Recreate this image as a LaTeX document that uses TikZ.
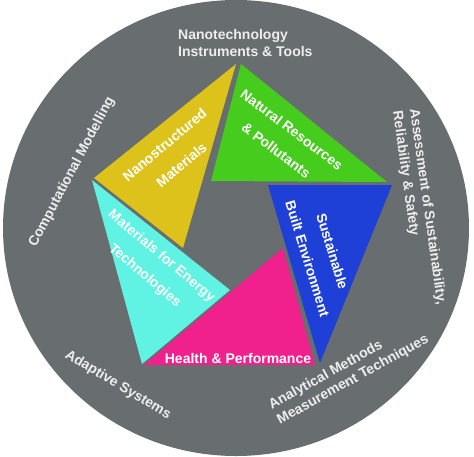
\documentclass[tikz,border=0pt]{standalone}
\usepackage{fontspec}
\setmainfont{Liberation Sans}
\usepackage{tikz}

\definecolor{disc}{RGB}{104,109,111}
\definecolor{outertext}{RGB}{238,238,238}
\definecolor{nanoyellow}{RGB}{221,194,27}
\definecolor{natgreen}{RGB}{70,204,28}
\definecolor{builtblue}{RGB}{30,64,214}
\definecolor{healthpink}{RGB}{240,32,140}
\definecolor{energycyan}{RGB}{96,242,226}

\begin{document}
\begin{tikzpicture}[x=1pt,y=-1pt,inner sep=0pt]
	\tikzstyle{inner}=[text=white,font=\fontsize{14}{26}\selectfont\bfseries,align=center]
	\tikzstyle{outer}=[text=outertext,font=\fontsize{14}{17}\selectfont\bfseries]

	\useasboundingbox (0,0) rectangle (474,456);
	\fill[disc] (236,228) ellipse [x radius=233, y radius=228];

	% the five pieces
	\fill[nanoyellow] (236,64) -- (94,178) -- (183,248) -- cycle;
	\fill[natgreen]   (241,64) -- (211,181) -- (387,182) -- cycle;
	\fill[builtblue]  (268,185) -- (392,185) -- (320,363) -- cycle;
	\fill[healthpink] (283,248) -- (144,365) -- (315,365) -- cycle;
	\fill[energycyan] (92,180) -- (142,364) -- (230,290) -- cycle;

	\node[inner,rotate=40]  (nano)   at (173,155) {Nanostructured\\Materials};
	\node[inner,rotate=-37] (natres) at (284,140) {Natural Resources\\\& Pollutants};
	\node[inner,rotate=-73] (built)  at (320,255) {Sustainable\\Built Environment};
	\node[inner]            (health) at (238,358) {Health \& Performance};
	\node[inner,rotate=-40] (energy) at (153,266) {Materials for Energy\\Technologies};

	% round the rim
	\node[outer,align=left,anchor=west]            (tools)    at (178,43)  {Nanotechnology\\Instruments \& Tools};
	\node[outer,align=left,anchor=west,rotate=-82] (assess)   at (405,110) {Assessment of Sustainability,\\Reliability \& Safety};
	\node[outer,align=left,anchor=west,rotate=29]  (analytic) at (274,414) {Analytical Methods\\Measurement Techniques};
	\node[outer,rotate=-31]                        (adaptive) at (118,385) {Adaptive Systems};
	\node[outer,rotate=62]                         (compmod)  at (72,172)  {Computational Modelling};
\end{tikzpicture}
\end{document}
